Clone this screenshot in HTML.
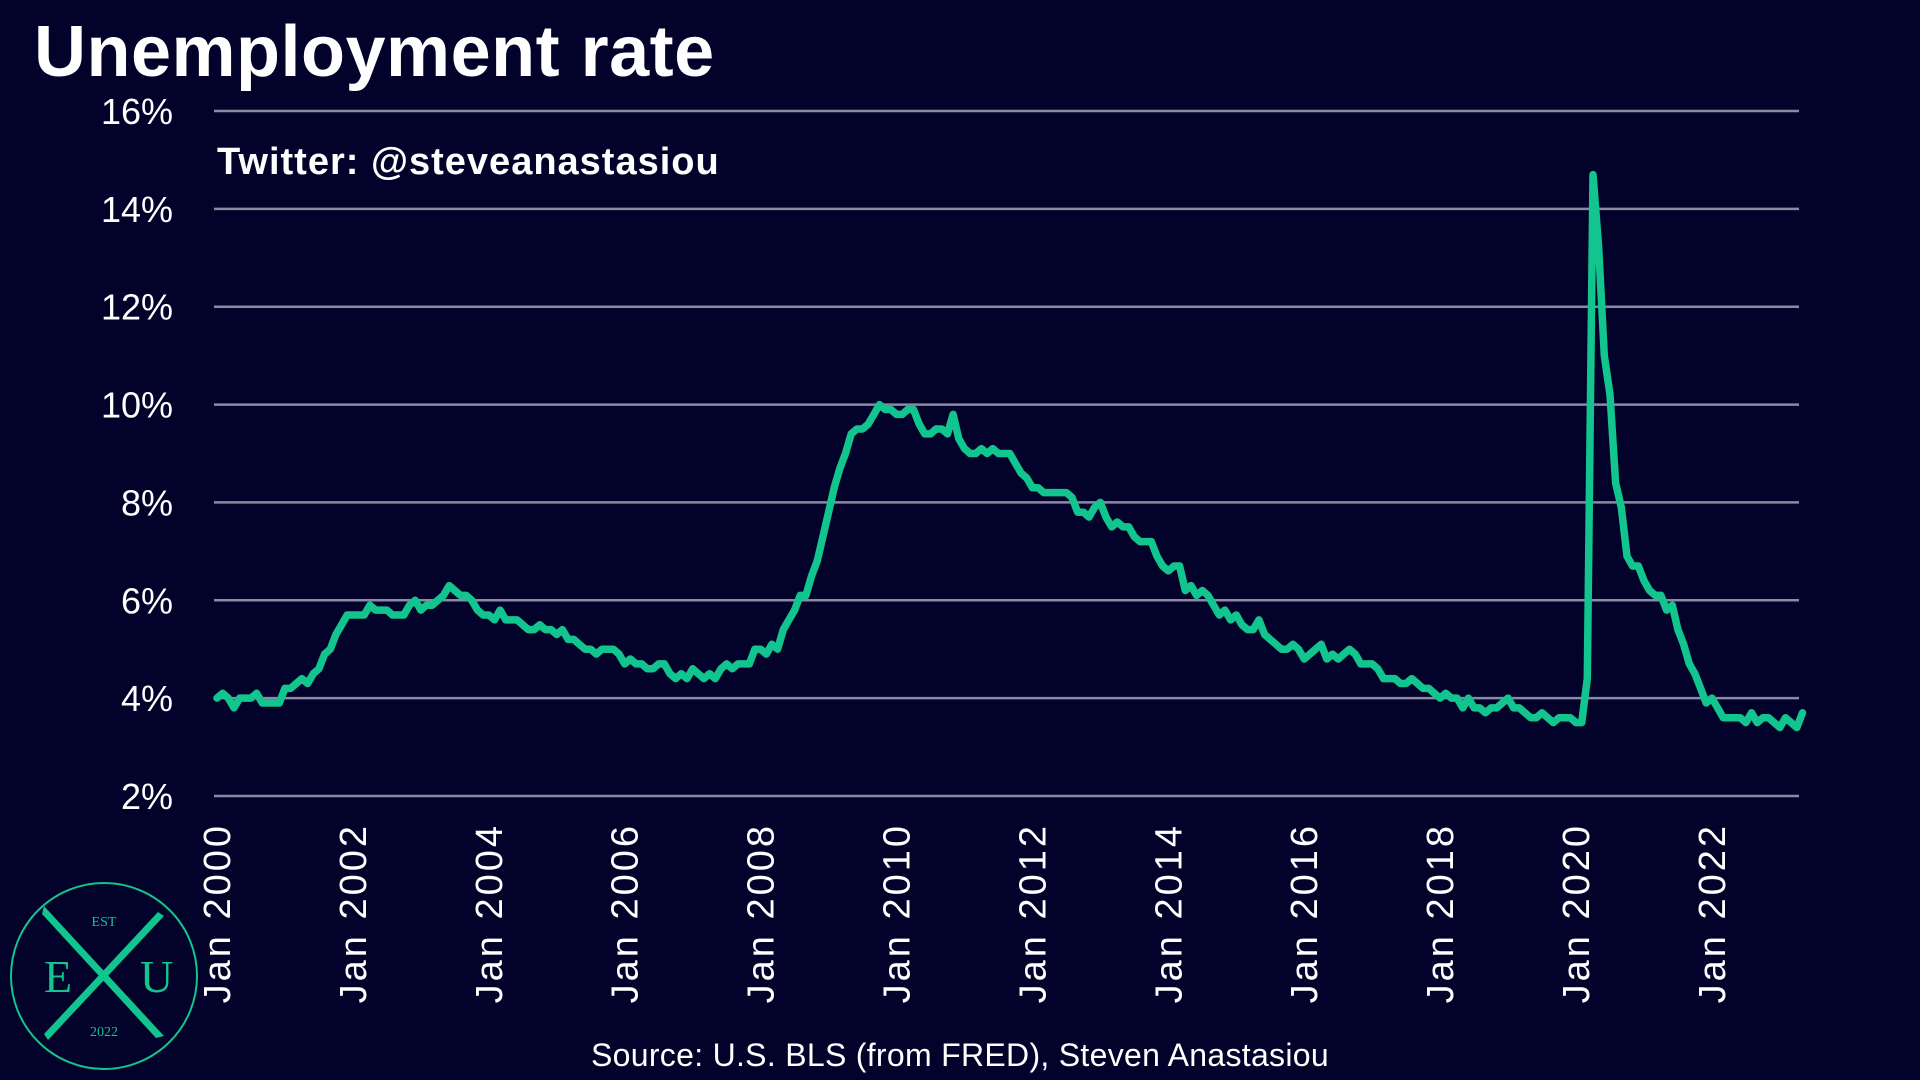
<!DOCTYPE html>
<html><head><meta charset="utf-8"><style>
html,body{margin:0;padding:0;background:#02022a;}
svg{display:block;}
</style></head><body>
<svg id="chart" width="1920" height="1080" viewBox="0 0 1920 1080" xmlns="http://www.w3.org/2000/svg" font-family="Liberation Sans, sans-serif">
<rect width="1920" height="1080" fill="#02022a"/>
<text x="34" y="76" fill="#ffffff" font-size="72" font-weight="bold" letter-spacing="0.5">Unemployment rate</text>
<g id="grid"></g>
<g id="ylabels"></g>
<g id="xlabels"></g>
<text x="217" y="174" fill="#ffffff" font-size="38" font-weight="bold" letter-spacing="1">Twitter: @steveanastasiou</text>
<path id="line" fill="none" stroke="#12c48e" stroke-width="7.5" stroke-linejoin="round" stroke-linecap="round"/>
<text x="960" y="1066" fill="#ffffff" font-size="32" text-anchor="middle" letter-spacing="0.3">Source: U.S. BLS (from FRED), Steven Anastasiou</text>
<g font-family="Liberation Serif, serif" fill="#12c48e">
<circle cx="104" cy="976" r="93" fill="none" stroke="#12c48e" stroke-width="2"/>
<path d="M44 906 L164 1036 L156 1038 L42 914 Z M164 916 L48 1040 L44 1034 L158 912 Z"/>
<text x="44" y="992" font-size="46">E</text>
<text x="140" y="992" font-size="46">U</text>
<text x="104" y="926" font-size="14" text-anchor="middle">EST</text>
<text x="104" y="1036" font-size="14" text-anchor="middle">2022</text>
</g>
</svg>
<script>
const yTicks=[2,4,6,8,10,12,14,16];
const xTickYears=[2000,2002,2004,2006,2008,2010,2012,2014,2016,2018,2020,2022];
const startYear=2000;
const rates=[
4.0,4.1,4.0,3.8,4.0,4.0,4.0,4.1,3.9,3.9,3.9,3.9,
4.2,4.2,4.3,4.4,4.3,4.5,4.6,4.9,5.0,5.3,5.5,5.7,
5.7,5.7,5.7,5.9,5.8,5.8,5.8,5.7,5.7,5.7,5.9,6.0,
5.8,5.9,5.9,6.0,6.1,6.3,6.2,6.1,6.1,6.0,5.8,5.7,
5.7,5.6,5.8,5.6,5.6,5.6,5.5,5.4,5.4,5.5,5.4,5.4,
5.3,5.4,5.2,5.2,5.1,5.0,5.0,4.9,5.0,5.0,5.0,4.9,
4.7,4.8,4.7,4.7,4.6,4.6,4.7,4.7,4.5,4.4,4.5,4.4,
4.6,4.5,4.4,4.5,4.4,4.6,4.7,4.6,4.7,4.7,4.7,5.0,
5.0,4.9,5.1,5.0,5.4,5.6,5.8,6.1,6.1,6.5,6.8,7.3,
7.8,8.3,8.7,9.0,9.4,9.5,9.5,9.6,9.8,10.0,9.9,9.9,
9.8,9.8,9.9,9.9,9.6,9.4,9.4,9.5,9.5,9.4,9.8,9.3,
9.1,9.0,9.0,9.1,9.0,9.1,9.0,9.0,9.0,8.8,8.6,8.5,
8.3,8.3,8.2,8.2,8.2,8.2,8.2,8.1,7.8,7.8,7.7,7.9,
8.0,7.7,7.5,7.6,7.5,7.5,7.3,7.2,7.2,7.2,6.9,6.7,
6.6,6.7,6.7,6.2,6.3,6.1,6.2,6.1,5.9,5.7,5.8,5.6,
5.7,5.5,5.4,5.4,5.6,5.3,5.2,5.1,5.0,5.0,5.1,5.0,
4.8,4.9,5.0,5.1,4.8,4.9,4.8,4.9,5.0,4.9,4.7,4.7,
4.7,4.6,4.4,4.4,4.4,4.3,4.3,4.4,4.3,4.2,4.2,4.1,
4.0,4.1,4.0,4.0,3.8,4.0,3.8,3.8,3.7,3.8,3.8,3.9,
4.0,3.8,3.8,3.7,3.6,3.6,3.7,3.6,3.5,3.6,3.6,3.6,
3.5,3.5,4.4,14.7,13.2,11.0,10.2,8.4,7.9,6.9,6.7,6.7,
6.4,6.2,6.1,6.1,5.8,5.9,5.4,5.1,4.7,4.5,4.2,3.9,
4.0,3.8,3.6,3.6,3.6,3.6,3.5,3.7,3.5,3.6,3.6,3.5,
3.4,3.6,3.5,3.4,3.7];
const NS="http://www.w3.org/2000/svg";
const X0=217, PXYEAR=67.95, Y2=796, PXPCT=(796-111)/14;
const xs=m=>X0+m/12*PXYEAR;
const ys=v=>Y2-(v-2)*PXPCT;
const grid=document.getElementById('grid'), yl=document.getElementById('ylabels'), xl=document.getElementById('xlabels');
yTicks.forEach(t=>{
 const l=document.createElementNS(NS,'line');
 l.setAttribute('x1',214);l.setAttribute('x2',1799);l.setAttribute('y1',ys(t));l.setAttribute('y2',ys(t));
 l.setAttribute('stroke','#8a8aa2');l.setAttribute('stroke-width',2.5);
 
 
 grid.appendChild(l);
 const tx=document.createElementNS(NS,'text');
 tx.setAttribute('x',173);tx.setAttribute('y',ys(t)+13);tx.setAttribute('text-anchor','end');
 tx.setAttribute('fill','#fff');tx.setAttribute('font-size',36);tx.textContent=t+'%';
 
 
 yl.appendChild(tx);
});
xTickYears.forEach(y=>{
 const x=xs((y-startYear)*12);
 const tx=document.createElementNS(NS,'text');
 tx.setAttribute('transform','translate('+(x+13)+',823) rotate(-90)');
 tx.setAttribute('text-anchor','end');tx.setAttribute('fill','#fff');tx.setAttribute('font-size',38);
 tx.setAttribute('letter-spacing','3');
 tx.textContent='Jan '+y;
 
 
 xl.appendChild(tx);
});
document.getElementById('line').setAttribute('d',rates.map((v,i)=>(i?'L':'M')+xs(i).toFixed(1)+' '+ys(v).toFixed(1)).join(' '));
</script>
</body></html>
